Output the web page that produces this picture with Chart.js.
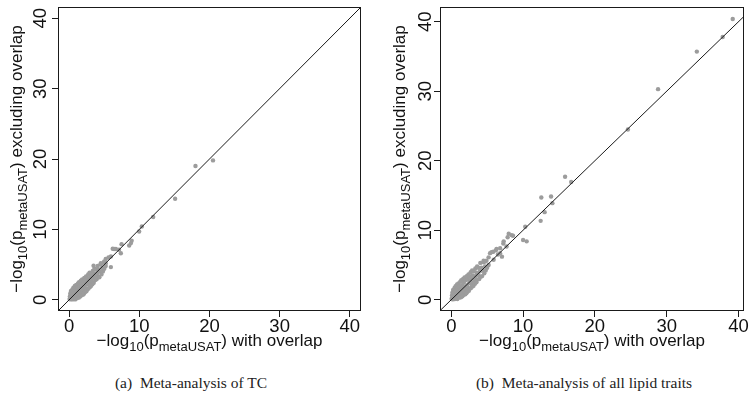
<!DOCTYPE html>
<html><head><meta charset="utf-8">
<script src="https://cdn.jsdelivr.net/npm/chart.js@4.4.1/dist/chart.umd.min.js"></script>
<style>
html,body{margin:0;padding:0;background:#fff;width:754px;height:401px;overflow:hidden;}
.panel{position:absolute;top:0;width:377px;height:360px;}
#pa{left:0}
#pb{left:377px}
.cap{position:absolute;top:374px;font-family:"Liberation Serif","Times New Roman",serif;font-size:15.5px;color:#222;white-space:nowrap;transform:translateX(-50%);}
</style></head><body>
<div class="panel" id="pa"><canvas id="ca" width="377" height="360"></canvas></div>
<div class="panel" id="pb"><canvas id="cb" width="377" height="360"></canvas></div>
<div class="cap" style="left:191px">(a)&nbsp; Meta-analysis of TC</div>
<div class="cap" style="left:584px">(b)&nbsp; Meta-analysis of all lipid traits</div>
<script>
// ---- data ----
const tickValues = [0, 10, 20, 30, 40];
const xTitleParts = [["−log",0],["10",1],["(p",0],["metaUSAT",1],[") with overlap",0]];
const yTitleParts = [["−log",0],["10",1],["(p",0],["metaUSAT",1],[") excluding overlap",0]];
const identityLine = [-5, 50];

// (a) TC: -log10 p with overlap (x) vs excluding overlap (y)
const tcX = [0.05,0.1,0.15,0.2,0.25,0.3,0.35,0.4,0.45,0.5,0.55,0.6,0.65,0.7,0.75,0.8,0.85,0.9,0.95,1.0,
 1.05,1.1,1.15,1.2,1.25,1.3,1.35,1.4,1.45,1.5,1.55,1.6,1.65,1.7,1.75,1.8,1.85,1.9,1.95,2.0,
 2.05,2.1,2.15,2.2,2.25,2.3,2.35,2.4,2.45,2.5,2.55,2.6,2.65,2.7,2.75,2.8,2.85,2.9,2.95,3.0,
 3.05,3.1,3.15,3.2,3.3,3.35,3.4,3.5,3.55,3.6,3.7,3.75,3.8,3.9,4.0,4.05,4.1,4.2,4.3,4.4,
 4.5,4.6,4.7,4.8,4.9,5.0,5.2,
 3.47,4.5,5.2,5.0,5.94,5.94,5.2,5.6,6.2,6.65,7.1,6.4,7.36,7.46,8.55,8.9,8.8,9.97,10.35,11.97,15.1,18.0,20.5];
const tcY = [0.1,0.5,0.9,0.05,1.25,0.45,0.15,0.95,1.45,0.05,0.6,1.7,1.15,0.3,0.85,1.95,0.05,1.4,0.55,2.1,
 1.0,0.2,1.7,0.7,2.3,1.25,0.3,2.5,0.9,1.9,0.45,1.4,2.7,0.6,2.2,1.05,2.9,1.65,0.7,2.5,
 1.3,0.85,3.1,1.9,1.05,2.7,1.55,3.3,1.2,2.2,3.0,1.5,2.5,3.6,1.6,2.9,2.1,3.85,1.8,3.3,
 2.4,1.95,3.7,2.8,2.2,4.1,3.2,2.4,3.7,4.4,2.8,3.4,4.3,2.9,3.8,4.8,3.3,4.3,3.2,4.0,
 5.0,3.6,4.5,4.0,5.3,4.4,4.8,
 4.83,5.2,5.8,5.45,4.64,6.15,5.2,6.0,7.25,7.2,7.1,7.2,6.6,7.9,7.7,8.4,8.05,9.7,10.4,11.75,14.35,19.0,19.8];

// (b) all lipid traits
const allX = [0.05,0.1,0.15,0.2,0.25,0.3,0.35,0.4,0.45,0.5,0.55,0.6,0.65,0.7,0.75,0.8,0.85,0.9,0.95,1.0,
 1.05,1.1,1.15,1.2,1.25,1.3,1.35,1.4,1.45,1.5,1.55,1.6,1.65,1.7,1.75,1.8,1.85,1.9,1.95,2.0,
 2.05,2.1,2.15,2.2,2.25,2.3,2.35,2.4,2.45,2.5,2.55,2.6,2.65,2.7,2.75,2.8,2.85,2.9,2.95,3.0,
 3.05,3.1,3.15,3.2,3.3,3.35,3.4,3.5,3.55,3.6,3.7,3.75,3.8,3.9,4.0,4.05,4.1,4.2,4.3,4.4,
 4.5,4.6,4.7,4.8,4.9,5.0,5.2,
 4.5,4.7,5.2,5.4,5.6,5.85,5.9,6.2,6.3,6.5,6.8,6.8,7.06,7.25,7.3,7.7,7.85,8.0,8.4,8.6,
 10.0,10.5,10.3,12.45,13.0,12.54,13.9,14.08,15.85,16.7,24.6,28.8,34.2,37.8,39.2];
const allY = [0.15,0.6,1.0,0.05,1.4,0.5,0.2,1.0,1.7,0.1,0.7,1.95,1.3,0.35,0.95,2.2,0.1,1.6,0.6,2.35,
 1.15,0.3,1.9,0.8,2.6,1.4,0.35,2.8,1.0,2.1,0.5,1.6,3.0,0.7,2.45,1.2,3.2,1.85,0.8,2.8,
 1.45,0.95,3.4,2.1,1.15,2.95,1.7,3.65,1.3,2.4,3.3,1.6,2.7,3.95,1.7,3.15,2.2,4.2,1.9,3.5,
 2.5,2.0,4.1,2.9,2.3,4.5,3.4,2.5,3.9,4.8,2.9,3.6,4.6,3.0,4.1,5.3,3.3,4.6,3.4,4.2,
 5.4,3.8,4.8,4.2,5.6,4.6,5.0,
 5.6,5.5,6.1,6.7,6.85,6.9,5.75,7.1,7.3,6.5,6.7,7.4,6.2,8.1,8.4,7.65,9.0,9.5,9.3,9.2,
 8.6,8.4,10.5,11.35,12.6,14.7,14.85,13.9,17.7,16.95,24.5,30.3,35.7,37.8,40.4];

// ---- drawing ----
const FONT = '"Liberation Sans", Arial, Helvetica, sans-serif';
function pts(xs, ys){ return xs.map((v,i)=>({x:v, y:ys[i]})); }

function drawRich(ctx, parts, cx, cy, size, subSize, subDrop){
  let w = 0;
  parts.forEach(([t,s])=>{ ctx.font = (s?subSize:size)+'px '+FONT; w += ctx.measureText(t).width; });
  let x = cx - w/2;
  ctx.textAlign = 'left'; ctx.textBaseline = 'alphabetic';
  parts.forEach(([t,s])=>{ ctx.font = (s?subSize:size)+'px '+FONT; ctx.fillText(t, x, cy + (s?subDrop:0)); x += ctx.measureText(t).width; });
}

const deco = {
  id: 'deco',
  afterDraw(chart){
    const o = chart.options.plugins.deco;
    const {ctx, chartArea:a, scales:{x, y}} = chart;
    ctx.save();
    ctx.strokeStyle = '#1a1a1a'; ctx.lineWidth = 1;
    ctx.strokeRect(Math.round(a.left)+0.5, Math.round(a.top)+0.5, Math.round(a.right-a.left)-1, Math.round(a.bottom-a.top)-1);
    ctx.fillStyle = '#111';
    ctx.font = '18.5px '+FONT; ctx.textAlign='center'; ctx.textBaseline='alphabetic';
    tickValues.forEach(v=>{ ctx.fillText(String(v), x.getPixelForValue(v), o.xTickBase); });
    tickValues.forEach(v=>{
      ctx.save(); ctx.translate(o.yTickBase, y.getPixelForValue(v)); ctx.rotate(-Math.PI/2);
      ctx.fillText(String(v), 0, 0); ctx.restore();
    });
    drawRich(ctx, xTitleParts, (a.left+a.right)/2, o.xTitleBase, 17, 13, 4.5);
    ctx.save(); ctx.translate(o.yTitleBase, (a.top+a.bottom)/2); ctx.rotate(-Math.PI/2);
    drawRich(ctx, yTitleParts, 0, 0, 17, 13, 4.5);
    ctx.restore();
    ctx.restore();
  }
};

function makeChart(id, xs, ys, lim, geo){
  const fixTicks = s => { s.ticks = tickValues.map(v=>({value:v})); };
  const grid = {display:true, drawOnChartArea:false, drawTicks:true, tickLength:6, color:'#1a1a1a', lineWidth:1};
  return new Chart(document.getElementById(id), {
    type: 'scatter',
    data: { datasets: [
      { type:'line', data: identityLine.map(v=>({x:v,y:v})), borderColor:'#1a1a1a', borderWidth:1, pointRadius:0, fill:false },
      { data: pts(xs, ys), backgroundColor:'#9c9c9c', borderWidth:0, pointRadius:2.2, pointHoverRadius:2.2 }
    ]},
    options: {
      responsive:false, animation:false, events:[],
      layout:{padding:{left:0, top:7, right:geo.padRight, bottom:0}},
      plugins:{ legend:{display:false}, tooltip:{enabled:false}, deco: geo },
      scales:{
        x:{ type:'linear', min:lim.x0, max:lim.x1, afterBuildTicks:fixTicks, afterFit:s=>{s.height=49;},
            ticks:{display:false}, grid:grid, border:{display:false} },
        y:{ type:'linear', min:lim.y0, max:lim.y1, afterBuildTicks:fixTicks, afterFit:s=>{s.width=geo.yWidth;},
            ticks:{display:false}, grid:grid, border:{display:false} }
      }
    },
    plugins:[deco]
  });
}

makeChart('ca', tcX, tcY, {x0:-1.6, x1:41.6, y0:-1.6, y1:41.6},
  {padRight:16, yWidth:58, xTickBase:331.5, yTickBase:45.5, xTitleBase:346, yTitleBase:22});
makeChart('cb', allX, allY, {x0:-1.57, x1:40.77, y0:-1.62, y1:42.12},
  {padRight:10, yWidth:63, xTickBase:331.5, yTickBase:53.5, xTitleBase:346, yTitleBase:28});
</script>
</body></html>
